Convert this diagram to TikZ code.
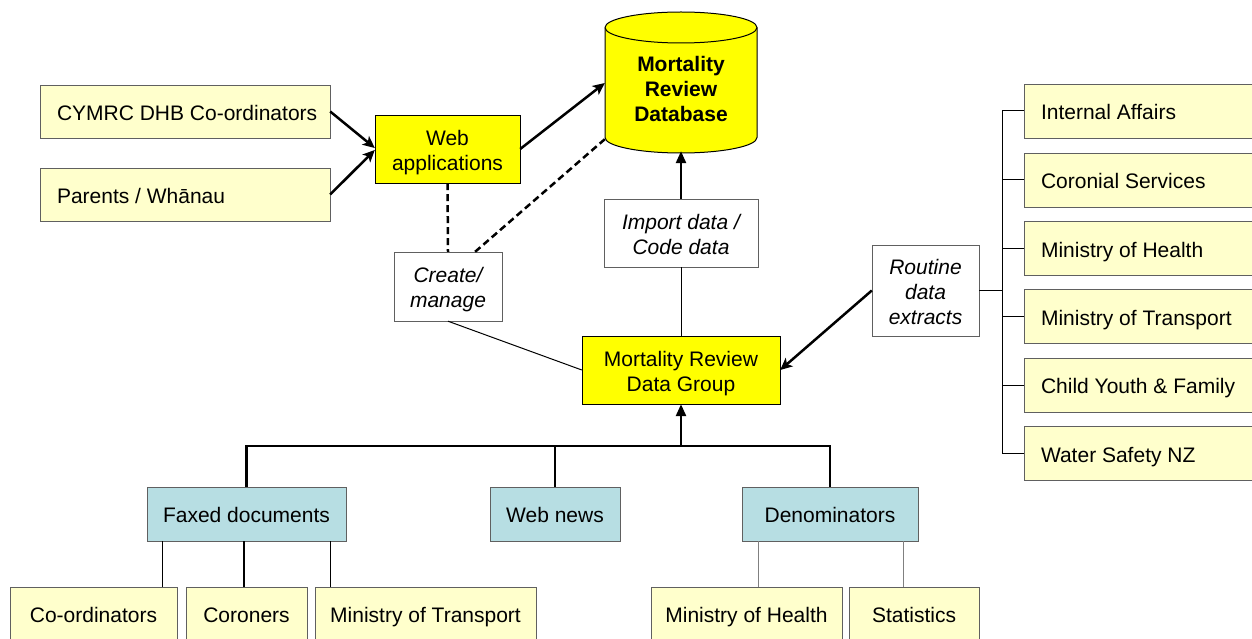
\documentclass[tikz,border=0pt]{standalone}
\usepackage{fontspec}
\setmainfont{Liberation Sans}
\usetikzlibrary{arrows.meta,calc}
\definecolor{lightyel}{HTML}{FFFFCC}
\definecolor{yel}{HTML}{FFFF00}
\definecolor{tealbox}{RGB}{183,222,227}
\definecolor{bordergray}{HTML}{606060}
\newcommand{\mystrut}{\rule[-4.4pt]{0pt}{26.4pt}}
\setlength{\lineskiplimit}{-100pt}
\begin{document}
\begin{tikzpicture}[x=1pt,y=-1pt,
  every node/.append style={font=\fontsize{21}{25}\selectfont},
  boxbase/.style={draw, inner sep=0pt, align=center},
  lbox/.style={boxbase, draw=bordergray, fill=lightyel, minimum height=53pt, inner xsep=17pt},
  rbox/.style={boxbase, draw=bordergray, fill=lightyel, minimum height=54pt, inner xsep=17pt},
  bbox/.style={boxbase, draw=bordergray, fill=lightyel, minimum height=54pt},
  ybox/.style={boxbase, draw=black, fill=yel},
  wbox/.style={boxbase, draw=bordergray, fill=white, font=\fontsize{21}{25}\selectfont\itshape},
  tbox/.style={boxbase, draw=bordergray, fill=tealbox, minimum height=54pt},
  thickarrow/.style={line width=2.5pt, -{Triangle[length=12pt,width=10pt]}},
  barbarrow/.style={line width=2.5pt, -{Stealth[length=12pt,width=11pt,inset=3pt]}},
  thinline/.style={line width=1pt},
  dashline/.style={line width=2.5pt, dash pattern=on 7pt off 4pt}]
\useasboundingbox (0,0) rectangle (1252,639);
\clip (0,0) rectangle (1252,639);
\fill[white] (0,0) rectangle (1252,639);

% left sources
\node[lbox] (cymrc) at (185,111.5) {\makebox[256pt][l]{\mystrut CYMRC DHB Co-ordinators}};
\node[lbox] (parents) at (185,194.5) {\makebox[256pt][l]{\mystrut Parents / Whānau}};
\node[ybox, minimum width=145pt, minimum height=68pt] (web) at (447.5,149) {\mystrut Web\\\mystrut applications};

% database cylinder
\path[fill=yel, draw=black, line width=1pt] (605,27.5) -- (605,137.5)
  arc[start angle=180, end angle=360, x radius=76pt, y radius=15.5pt] -- (757,27.5)
  arc[start angle=0, end angle=180, x radius=76pt, y radius=15.5pt] -- cycle;
\draw[line width=1pt] (605,27.5) arc[start angle=180, end angle=360, x radius=76pt, y radius=15.5pt];
\node[inner sep=0pt, minimum width=152pt, minimum height=126pt, align=center,
  font=\fontsize{21}{25}\selectfont\bfseries] (db) at (681,88) {\mystrut Mortality\\\mystrut Review\\\mystrut Database};

\node[wbox, minimum width=154pt, minimum height=68pt] (imp) at (681,233) {\mystrut Import data /\\\mystrut Code data};
\node[wbox, minimum width=108pt, minimum height=69pt] (create) at (448,286.5) {\mystrut Create/\\\mystrut manage};
\node[ybox, minimum width=198pt, minimum height=68pt] (dg) at (681,370) {\mystrut Mortality Review\\\mystrut Data Group};
\node[wbox, minimum width=107pt, minimum height=91pt] (rt) at (925.5,290.5) {\mystrut Routine\\\mystrut data\\\mystrut extracts};

% right sources
\node[rbox] (ia) at (1144,111) {\makebox[206pt][l]{\mystrut Internal Affairs}};
\node[rbox] (cs) at (1144,180) {\makebox[206pt][l]{\mystrut Coronial Services}};
\node[rbox] (moh) at (1144,248.5) {\makebox[206pt][l]{\mystrut Ministry of Health}};
\node[rbox] (mot) at (1144,316.5) {\makebox[206pt][l]{\mystrut Ministry of Transport}};
\node[rbox] (cyf) at (1144,385) {\makebox[206pt][l]{\mystrut Child Youth \& Family}};
\node[rbox] (ws) at (1144,453.5) {\makebox[206pt][l]{\mystrut Water Safety NZ}};

% bottom groups
\node[tbox, minimum width=199pt] (fax) at (246.5,514) {\mystrut Faxed documents};
\node[tbox, minimum width=130pt] (news) at (555,514) {\mystrut Web news};
\node[tbox, minimum width=176pt] (denom) at (830,514) {\mystrut Denominators};

\node[bbox, minimum width=167pt] (bco) at (93.5,614) {\mystrut Co-ordinators};
\node[bbox, minimum width=121pt] (bcor) at (246.5,614) {\mystrut Coroners};
\node[bbox, minimum width=221pt] (bmot) at (425.5,614) {\mystrut Ministry of Transport};
\node[bbox, minimum width=191pt] (bmoh) at (746.5,614) {\mystrut Ministry of Health};
\node[bbox, minimum width=130pt] (bstat) at (914,614) {\mystrut Statistics};

% connectors top
\draw[barbarrow] (cymrc.east) -- ([yshift=1pt]web.west);
\draw[barbarrow] (parents.east) -- ([yshift=-1pt]web.west);
\draw[barbarrow] (web.east) -- ([yshift=5pt]db.west);
\draw[dashline] (web.south) -- (create.north);
\draw[dashline] ($(create.north)!0.5!(create.north east)$) -- ([yshift=12pt]db.south west);
\draw[thinline] (create.south) -- (dg.west);
\draw[thickarrow] (imp.north) -- (db.south);
\draw[thinline] (imp.south) -- (dg.north);
\draw[barbarrow] (rt.west) -- (dg.east);

% right bracket
\coordinate (brk) at (1002,290.5);
\draw[thinline] (rt.east) -- (brk);
\draw[thinline] (brk |- ia.west) -- (brk |- ws.west);
\foreach \n in {ia,cs,moh,mot,cyf,ws} \draw[thinline] (brk |- \n.west) -- (\n.west);

% bus
\coordinate (bus) at (681,446);
\draw[line width=2.5pt] (fax.north) |- (bus) -| (denom.north);
\draw[line width=2.5pt] (news.north) -- (news.north |- bus);
\draw[thickarrow] (bus) -- (dg.south);

% lower connectors
\coordinate (f1) at (162,0);
\coordinate (f2) at (244,0);
\coordinate (f3) at (330,0);
\coordinate (d1) at (758,0);
\coordinate (d2) at (903,0);
\draw[thinline] (f1 |- fax.south) -- (f1 |- bco.north);
\draw[line width=2pt] (f2 |- fax.south) -- (f2 |- bcor.north);
\draw[thinline] (f3 |- fax.south) -- (f3 |- bmot.north);
\draw[thinline, draw=gray] (d1 |- denom.south) -- (d1 |- bmoh.north);
\draw[thinline, draw=gray] (d2 |- denom.south) -- (d2 |- bstat.north);
\end{tikzpicture}
\end{document}
